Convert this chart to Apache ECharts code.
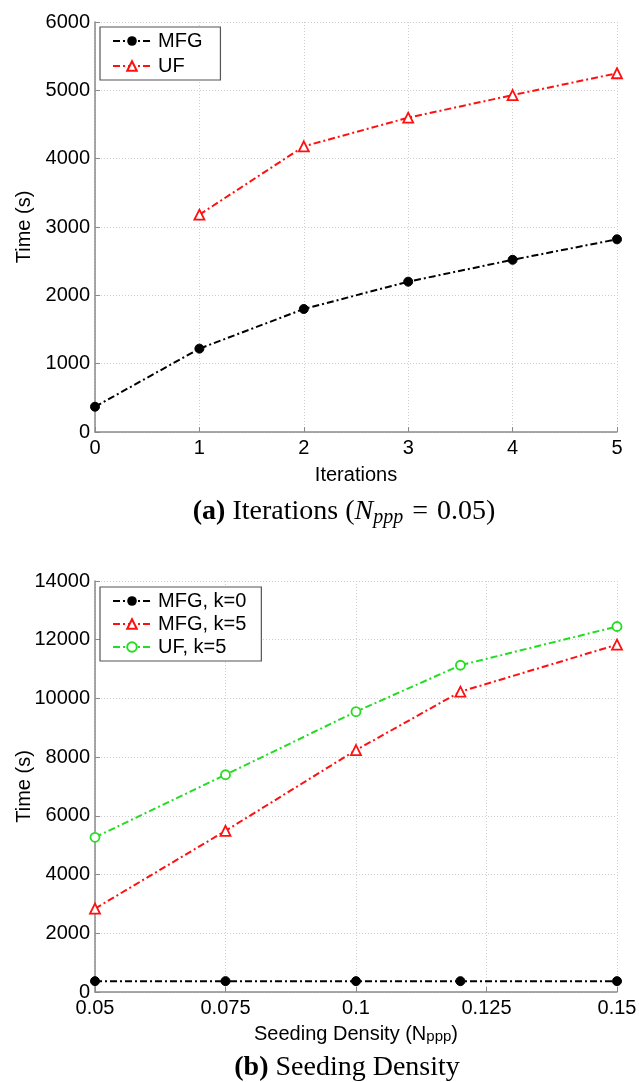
<!DOCTYPE html>
<html>
<head>
<meta charset="utf-8">
<script src="https://cdn.jsdelivr.net/npm/echarts@6/dist/echarts.min.js"></script>
<style>
html,body{margin:0;padding:0;background:#fff;}
#c{width:639px;height:1082px;}
</style>
</head>
<body>
<div id="c"></div>
<script>
// ---- data ----
const iterations = [0, 1, 2, 3, 4, 5];
const mfgIter = [370, 1220, 1800, 2200, 2520, 2820];
const ufIterX = [1, 2, 3, 4, 5];
const ufIter = [3180, 4180, 4600, 4930, 5250];

const density = [0.05, 0.075, 0.1, 0.12, 0.15];
const mfgK0 = [370, 370, 370, 370, 370];
const mfgK5 = [2840, 5490, 8240, 10230, 11830];
const ufK5 = [5270, 7400, 9550, 11130, 12450];

const topTicks = {min: 0, max: 6000, interval: 1000};
const botTicks = {min: 0, max: 14000, interval: 2000};

// ---- styles ----
const FONT = '"Liberation Sans", Arial, Helvetica, sans-serif';
const SERIF = '"Liberation Serif", "Times New Roman", serif';
const DASHDOT = [7, 3, 2, 3];
const gridLine = {show: true, lineStyle: {color: '#cfcfcf', type: [1, 2], width: 1}};
const axisLine = {show: true, onZero: false, lineStyle: {color: '#8a8a8a', width: 1.5}};
const axisTick = {show: true, inside: true, length: 5, lineStyle: {color: '#8a8a8a', width: 1}};
const lbl = {color: '#000', fontFamily: FONT, fontSize: 20};

function pairs(xs, ys) { return xs.map((x, i) => [x, ys[i]]); }

const black = {
  type: 'line', symbol: 'circle', symbolSize: 9,
  lineStyle: {color: '#000', width: 2, type: DASHDOT},
  itemStyle: {color: '#000', borderColor: '#000'}
};
const red = {
  type: 'line', symbol: 'triangle', symbolSize: 10,
  lineStyle: {color: '#ff1010', width: 2, type: DASHDOT},
  itemStyle: {color: '#fff', borderColor: '#ff1010', borderWidth: 1.8}
};
const green = {
  type: 'line', symbol: 'circle', symbolSize: 9,
  lineStyle: {color: '#22dd22', width: 2, type: DASHDOT},
  itemStyle: {color: '#fff', borderColor: '#22dd22', borderWidth: 1.8}
};

const legendBase = {
  orient: 'vertical', left: 100,
  backgroundColor: '#fff', borderColor: '#555', borderWidth: 1.2,
  itemWidth: 38, itemHeight: 12, itemGap: 5,
  textStyle: {color: '#000', fontFamily: FONT, fontSize: 20, padding: [0, 0, 0, 2]},
  selectedMode: false
};

const yName = {
  name: 'Time (s)', nameLocation: 'middle', nameGap: 61, nameRotate: 90,
  nameMoveOverlap: false,
  nameTextStyle: {color: '#000', fontFamily: FONT, fontSize: 20}
};

const option = {
  animation: false,
  backgroundColor: '#fff',
  grid: [
    {left: 95, right: 22, top: 22, height: 410, outerBoundsMode: 'none', containLabel: false},
    {left: 95, right: 22, top: 581, height: 411, outerBoundsMode: 'none', containLabel: false}
  ],
  legend: [
    Object.assign({}, legendBase, {top: 27, padding: [4, 18, 4, 12], data: ['MFG', 'UF']}),
    Object.assign({}, legendBase, {top: 587, itemGap: 3, padding: [4, 15, 4, 12],
      data: ['MFG, k=0', 'MFG, k=5', 'UF, k=5']})
  ],
  xAxis: [
    {gridIndex: 0, type: 'value', min: 0, max: 5, interval: 1,
     name: 'Iterations', nameLocation: 'middle', nameGap: 33, nameMoveOverlap: false,
     nameTextStyle: {color: '#000', fontFamily: FONT, fontSize: 20},
     axisLine, axisTick, splitLine: gridLine,
     axisLabel: Object.assign({margin: 6}, lbl)},
    {gridIndex: 1, type: 'value', min: 0.05, max: 0.15, interval: 0.025,
     name: 'Seeding Density (N{s|ppp})', nameLocation: 'middle', nameGap: 32, nameMoveOverlap: false,
     nameTextStyle: {color: '#000', fontFamily: FONT, fontSize: 20,
       rich: {s: {fontFamily: FONT, fontSize: 15, color: '#000', verticalAlign: 'bottom', lineHeight: 12}}},
     axisLine, axisTick, splitLine: gridLine,
     axisLabel: Object.assign({margin: 6, formatter: v => String(+v.toFixed(3))}, lbl)}
  ],
  yAxis: [
    Object.assign({gridIndex: 0, type: 'value'}, yName, {
     axisLine, axisTick, splitLine: gridLine,
     axisLabel: Object.assign({margin: 5, formatter: v => String(v)}, lbl)}, topTicks),
    Object.assign({gridIndex: 1, type: 'value'}, yName, {
     axisLine, axisTick, splitLine: gridLine,
     axisLabel: Object.assign({margin: 5, formatter: v => String(v)}, lbl)}, botTicks)
  ],
  series: [
    Object.assign({}, black, {name: 'MFG', xAxisIndex: 0, yAxisIndex: 0, data: pairs(iterations, mfgIter)}),
    Object.assign({}, red, {name: 'UF', xAxisIndex: 0, yAxisIndex: 0, data: pairs(ufIterX, ufIter)}),
    Object.assign({}, black, {name: 'MFG, k=0', xAxisIndex: 1, yAxisIndex: 1, data: pairs(density, mfgK0)}),
    Object.assign({}, red, {name: 'MFG, k=5', xAxisIndex: 1, yAxisIndex: 1, data: pairs(density, mfgK5)}),
    Object.assign({}, green, {name: 'UF, k=5', xAxisIndex: 1, yAxisIndex: 1, data: pairs(density, ufK5)})
  ],
  graphic: [
    {type: 'text', x: 344, y: 512, style: {
      text: '{b|(a)} Iterations ({i|N}{s|ppp}{e|=}0.05)',
      align: 'center', verticalAlign: 'middle',
      fontFamily: SERIF, fontSize: 28, fill: '#000', lineHeight: 32,
      rich: {
        b: {fontFamily: SERIF, fontSize: 28, fontWeight: 'bold', lineHeight: 32},
        i: {fontFamily: SERIF, fontSize: 28, fontStyle: 'italic', lineHeight: 32},
        s: {fontFamily: SERIF, fontSize: 20, fontStyle: 'italic', verticalAlign: 'bottom', lineHeight: 14},
        e: {fontFamily: SERIF, fontSize: 28, lineHeight: 32, padding: [0, 9, 0, 9]}
      }}},
    {type: 'text', x: 347, y: 1068, style: {
      text: '{b|(b)} Seeding Density',
      align: 'center', verticalAlign: 'middle',
      fontFamily: SERIF, fontSize: 28, fill: '#000', lineHeight: 32,
      rich: {b: {fontFamily: SERIF, fontSize: 28, fontWeight: 'bold', lineHeight: 32}}
    }}
  ]
};

const chart = echarts.init(document.getElementById('c'), null, {renderer: 'canvas'});
chart.setOption(option);
</script>
</body>
</html>
